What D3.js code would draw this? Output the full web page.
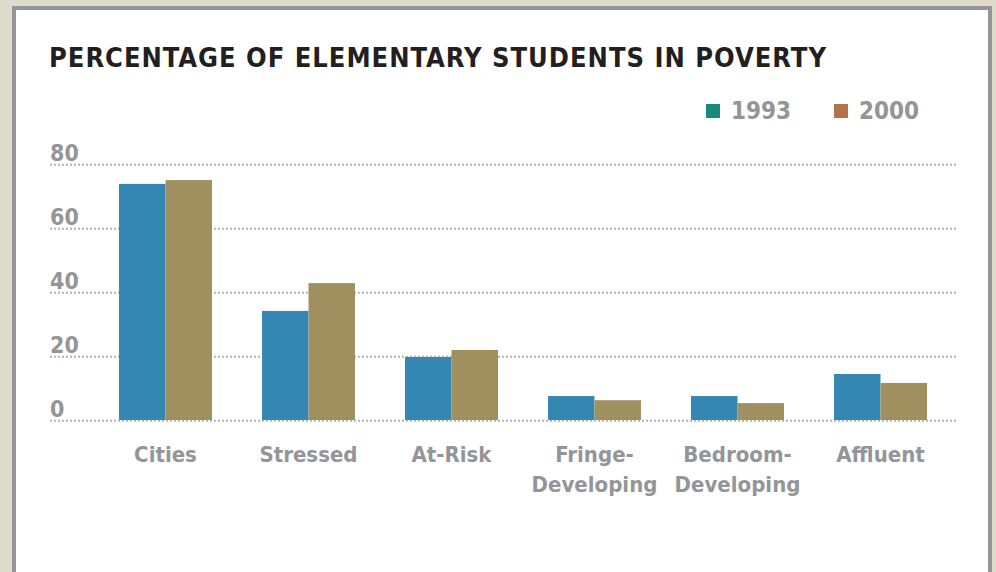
<!DOCTYPE html>
<html>
<head>
<meta charset="utf-8">
<script src="https://cdn.jsdelivr.net/npm/d3@7"></script>
<style>
	html, body { margin: 0; padding: 0; background: #dfdbcc; }
	#chart { width: 996px; height: 572px; }
	text { font-family: 'DejaVu Sans Condensed', 'DejaVu Sans', sans-serif; font-weight: bold; }
</style>
</head>
<body>
<div id="chart"><svg width="996" height="572"></svg></div>
<script>
var title = 'PERCENTAGE OF ELEMENTARY STUDENTS IN POVERTY';
var categories = [ 'Cities', 'Stressed', 'At-Risk', 'Fringe-\nDeveloping', 'Bedroom-\nDeveloping', 'Affluent' ];
var seriesNames = [ '1993', '2000' ];
var values1993 = [ 74, 34.3, 19.9, 7.7, 7.7, 14.6 ];
var values2000 = [ 75.2, 43, 22.1, 6.4, 5.5, 11.8 ];
var yTicks = [ 0, 20, 40, 60, 80 ];

var barColors = [ '#3487b3', '#a08f5f' ];
var legendColors = [ '#178a7c', '#b3724a' ];
var grey = '#939598';

var svg = d3.select('#chart > svg');

// panel
svg.append('rect')
	.attr('x', 14)
	.attr('y', 8)
	.attr('width', 976)
	.attr('height', 600)
	.attr('fill', '#fff')
	.attr('stroke', '#939598')
	.attr('stroke-width', 4);

// title, stretched with letter spacing to the original width
var titleText = svg.append('text')
	.attr('x', 49)
	.attr('y', 67)
	.attr('fill', '#231f20')
	.style('font-size', '27px')
	.text(title);
var rawWidth = titleText.node().getComputedTextLength();
var spacing = (777 - rawWidth) / (title.length - 1);
titleText.style('letter-spacing', spacing + 'px');

var data = categories.map(function(c, i) {
	return { name: c, values: [ values1993[i], values2000[i] ] };
});

var xScale = d3.scaleBand()
	.domain(categories)
	.range([ 94, 952 ])
	.paddingInner(0.35)
	.paddingOuter(0.175);
var xInner = d3.scaleBand()
	.domain(seriesNames)
	.range([ 0, xScale.bandwidth() ]);
var yScale = d3.scaleLinear()
	.domain([ 0, 80 ])
	.range([ 420.7, 164.7 ]);

// grid
svg.append('g').attr('class', 'grids')
	.selectAll('line')
	.data(yTicks)
	.enter()
	.append('line')
	.attr('x1', 50)
	.attr('x2', 957)
	.attr('y1', function(d) { return yScale(d) })
	.attr('y2', function(d) { return yScale(d) })
	.attr('stroke', '#b1b3b6')
	.attr('stroke-width', 2)
	.attr('stroke-dasharray', '2,2');

// y tick labels
svg.append('g').attr('class', 'y labels')
	.selectAll('text')
	.data(yTicks)
	.enter()
	.append('text')
	.attr('x', 50)
	.attr('y', function(d) { return yScale(d) - 4 })
	.attr('fill', grey)
	.style('font-size', '23px')
	.text(function(d) { return d });

// bars
var groups = svg.append('g').attr('class', 'plot')
	.selectAll('g')
	.data(data)
	.enter()
	.append('g')
	.attr('transform', function(d) { return 'translate(' + xScale(d.name) + ',0)' });
groups.selectAll('rect')
	.data(function(d) { return d.values })
	.enter()
	.append('rect')
	.attr('x', function(d, i) { return xInner(seriesNames[i]) })
	.attr('width', xInner.bandwidth())
	.attr('y', function(d) { return yScale(d) })
	.attr('height', function(d) { return yScale(0) - yScale(d) - 0.7 })
	.attr('fill', function(d, i) { return barColors[i] });

// category labels
var catLabels = svg.append('g').attr('class', 'x labels')
	.selectAll('text')
	.data(categories)
	.enter()
	.append('text')
	.attr('x', function(d) { return xScale(d) + xScale.bandwidth() / 2 })
	.attr('y', 462)
	.attr('text-anchor', 'middle')
	.attr('fill', grey)
	.style('font-size', '22px');
catLabels.selectAll('tspan')
	.data(function(d) { return d.split('\n') })
	.enter()
	.append('tspan')
	.attr('x', function() { return d3.select(this.parentNode).attr('x') })
	.attr('dy', function(d, i) { return i === 0 ? 0 : 30 })
	.text(function(d) { return d });

// legend
var legendX = [ 706, 834 ];
var legend = svg.append('g').attr('class', 'legend')
	.selectAll('g')
	.data(seriesNames)
	.enter()
	.append('g')
	.attr('transform', function(d, i) { return 'translate(' + legendX[i] + ',104)' });
legend.append('rect')
	.attr('width', 14)
	.attr('height', 14)
	.attr('fill', function(d, i) { return legendColors[i] });
legend.append('text')
	.attr('x', 25)
	.attr('y', 15)
	.attr('fill', grey)
	.style('font-size', '24px')
	.text(function(d) { return d });
</script>
</body>
</html>
